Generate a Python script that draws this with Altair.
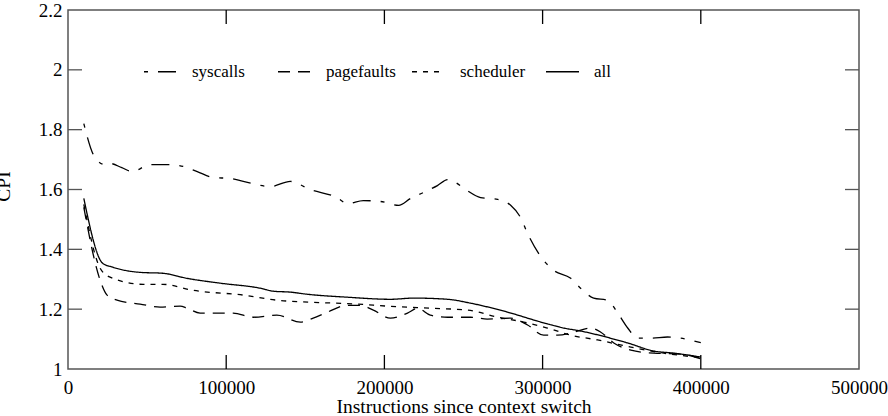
import altair as alt
import pandas as pd

# CPI measured against instructions executed since the last context switch
series_names = ["syscalls", "pagefaults", "scheduler", "all"]

syscalls_x = [10000, 17000, 23400, 26600, 34000, 40500, 52000, 64500, 72800, 81700,
              91800, 102500, 110800, 128000, 140500, 153000, 170000, 176600, 186700,
              197500, 209000, 216500, 224700, 233500, 240000, 243700, 251300, 260800,
              271600, 279800, 286000, 290500, 300700, 307000, 317800, 324000, 332300,
              341000, 347500, 353800, 360000, 368400, 379000, 387400, 400000]
syscalls_y = [1.82, 1.707, 1.683, 1.687, 1.673, 1.66, 1.683, 1.683, 1.677, 1.66,
              1.64, 1.637, 1.627, 1.61, 1.627, 1.60, 1.573, 1.553, 1.563,
              1.56, 1.547, 1.57, 1.59, 1.613, 1.633, 1.627, 1.60, 1.573,
              1.567, 1.547, 1.507, 1.453, 1.363, 1.33, 1.303, 1.27, 1.237,
              1.23, 1.187, 1.137, 1.103, 1.103, 1.107, 1.103, 1.088]

pagefaults_x = [10000, 20300, 24700, 31000, 45600, 58200, 70900, 75300, 83500, 104400,
                117100, 132000, 146900, 155000, 164000, 176600, 184800, 193000, 203800,
                214600, 221000, 229000, 240000, 254500, 265000, 279800, 290500, 300700,
                309500, 319600, 330400, 336800, 345000, 355800, 370300, 387400, 400000]
pagefaults_y = [1.54, 1.297, 1.247, 1.23, 1.217, 1.207, 1.21, 1.203, 1.187, 1.187,
                1.173, 1.18, 1.157, 1.17, 1.19, 1.213, 1.213, 1.197, 1.17,
                1.187, 1.203, 1.18, 1.173, 1.173, 1.167, 1.17, 1.147, 1.113,
                1.113, 1.123, 1.137, 1.123, 1.087, 1.063, 1.053, 1.05, 1.034]

scheduler_x = [10000, 20300, 26600, 47500, 60000, 79000, 110800, 132000, 155000, 183000,
               202000, 229000, 252600, 271600, 288000, 303000, 317800, 334800, 355800,
               376600, 400000]
scheduler_y = [1.55, 1.337, 1.307, 1.283, 1.283, 1.263, 1.247, 1.23, 1.223, 1.217,
               1.21, 1.203, 1.197, 1.173, 1.157, 1.137, 1.113, 1.097, 1.073,
               1.053, 1.038]

all_x = [10000, 22000, 28500, 45600, 60000, 75300, 96000, 121500, 129800, 140500,
         151000, 176600, 203800, 218400, 240000, 254500, 277900, 298800, 313300,
         324000, 345000, 353800, 370300, 383000, 400000]
all_y = [1.57, 1.353, 1.34, 1.323, 1.32, 1.303, 1.287, 1.27, 1.26, 1.257,
         1.25, 1.24, 1.233, 1.237, 1.233, 1.22, 1.19, 1.157, 1.137,
         1.127, 1.10, 1.087, 1.06, 1.053, 1.04]

x_tick_values = [0, 100000, 200000, 300000, 400000, 500000]
y_tick_values = [1, 1.2, 1.4, 1.6, 1.8, 2, 2.2]
inner_x_ticks = [100000, 200000, 300000, 400000]
inner_y_ticks = [1.2, 1.4, 1.6, 1.8, 2.0]

dash_styles = [[4, 10, 18, 10], [12, 8], [5, 6], [1, 0]]

rows = []
for name, xs, ys in [("syscalls", syscalls_x, syscalls_y),
                     ("pagefaults", pagefaults_x, pagefaults_y),
                     ("scheduler", scheduler_x, scheduler_y),
                     ("all", all_x, all_y)]:
    for xv, yv in zip(xs, ys):
        rows.append({"instr": xv, "cpi": yv, "series": name})
lines_df = pd.DataFrame(rows)

FONT = "Liberation Serif"
FRAME = "#555555"
W, H = 791, 359

x_scale = alt.Scale(domain=[0, 500000], nice=False)
y_scale = alt.Scale(domain=[1, 2.2], nice=False)

lines = alt.Chart(lines_df).mark_line(
    color="black", strokeWidth=1.3, interpolate="monotone"
).encode(
    x=alt.X("instr:Q", scale=x_scale,
            axis=alt.Axis(values=x_tick_values, format="d", grid=False, domain=False,
                          ticks=False, tickSize=0, labelFont=FONT, labelFontSize=19,
                          labelColor="black", labelBaseline="alphabetic", labelPadding=24,
                          labelFlush=False, labelOverlap=False,
                          title="Instructions since context switch", titleFont=FONT,
                          titleFontSize=19.5, titleFontWeight="normal", titleColor="black",
                          titleBaseline="alphabetic", titleY=43)),
    y=alt.Y("cpi:Q", scale=y_scale,
            axis=alt.Axis(values=y_tick_values, format="~g", grid=False, domain=False,
                          ticks=False, tickSize=0, labelFont=FONT, labelFontSize=19,
                          labelColor="black", labelPadding=6, labelFlush=False,
                          labelOverlap=False,
                          title="CPI", titleFont=FONT, titleFontSize=19.5,
                          titleFontWeight="normal", titleColor="black", titleAngle=270,
                          titleBaseline="alphabetic", titleAlign="center",
                          titleX=-59, titleY=176)),
    strokeDash=alt.StrokeDash(
        "series:N",
        scale=alt.Scale(domain=series_names, range=dash_styles),
        sort=series_names,
        legend=alt.Legend(title=None, orient="none", direction="horizontal",
                          columns=4, gridAlign="all", legendX=75, legendY=44,
                          padding=0, symbolType="stroke", symbolSize=1089,
                          symbolStrokeWidth=1.3, symbolStrokeColor="black",
                          labelFont=FONT, labelFontSize=17, labelColor="black",
                          labelFontWeight="normal",
                          labelOffset=14, columnPadding=13, labelLimit=200),
    ),
)

# inward-pointing tick marks on all four sides of the frame
ytick_df = pd.DataFrame({"v": inner_y_ticks})
xtick_df = pd.DataFrame({"v": inner_x_ticks})

left_ticks = alt.Chart(ytick_df).mark_rule(color=FRAME, strokeWidth=1.3, x2Offset=14).encode(
    y=alt.Y("v:Q", scale=y_scale), x=alt.datum(0), x2=alt.datum(0))
right_ticks = alt.Chart(ytick_df).mark_rule(color=FRAME, strokeWidth=1.3, x2Offset=-14).encode(
    y=alt.Y("v:Q", scale=y_scale), x=alt.datum(500000), x2=alt.datum(500000))
bottom_ticks = alt.Chart(xtick_df).mark_rule(color="black", strokeWidth=1.3, y2Offset=-14).encode(
    x=alt.X("v:Q", scale=x_scale), y=alt.datum(1), y2=alt.datum(1))
top_ticks = alt.Chart(xtick_df).mark_rule(color="black", strokeWidth=1.3, y2Offset=14).encode(
    x=alt.X("v:Q", scale=x_scale), y=alt.datum(2.2), y2=alt.datum(2.2))

chart = alt.layer(lines, left_ticks, right_ticks, bottom_ticks, top_ticks).properties(
    width=W, height=H,
    autosize=alt.AutoSizeParams(type="none"),
    padding={"left": 68, "top": 10, "right": 29, "bottom": 47},
    background="white",
).configure(
    font=FONT
).configure_view(
    stroke=FRAME, strokeWidth=1.5
).configure_legend(
    labelFont=FONT, labelFontSize=17, labelFontWeight="normal", labelColor="black"
)

chart.save("out.html", embed_options={"renderer": "svg", "actions": False})
